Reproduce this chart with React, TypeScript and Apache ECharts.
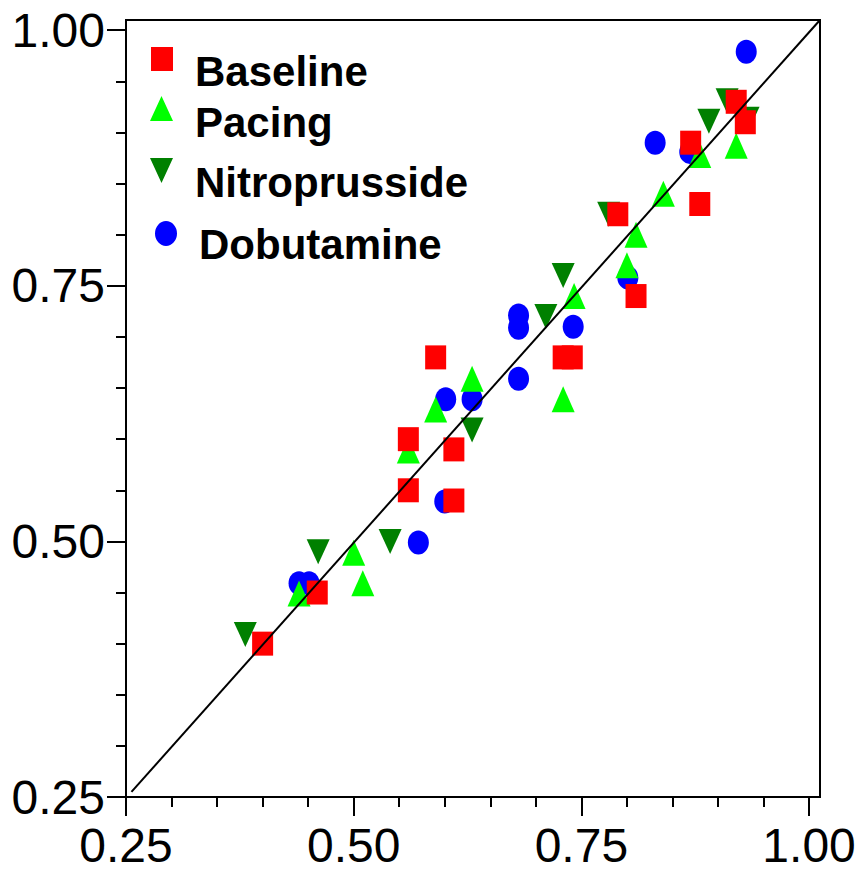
import React, { useEffect, useRef } from "react";
import * as echarts from "echarts";

const baseline: [number, number][] = [
  [0.87, 0.89], [0.92, 0.93], [0.93, 0.91], [0.88, 0.83], [0.79, 0.82],
  [0.81, 0.74], [0.59, 0.68], [0.73, 0.68], [0.74, 0.68], [0.56, 0.6],
  [0.61, 0.59], [0.56, 0.55], [0.61, 0.54], [0.46, 0.45], [0.4, 0.4],
];
const pacing: [number, number][] = [
  [0.92, 0.887], [0.88, 0.878], [0.84, 0.84], [0.81, 0.8], [0.8, 0.77],
  [0.742, 0.74], [0.73, 0.639], [0.63, 0.659], [0.59, 0.629], [0.56, 0.589],
  [0.5, 0.489], [0.51, 0.459], [0.44, 0.449],
];
const nitroprusside: [number, number][] = [
  [0.91, 0.931], [0.933, 0.913], [0.89, 0.911], [0.78, 0.82], [0.73, 0.76], [0.711, 0.72],
  [0.63, 0.609], [0.54, 0.5], [0.461, 0.49], [0.381, 0.409],
];
const dobutamine: [number, number][] = [
  [0.931, 0.979], [0.831, 0.89], [0.869, 0.881], [0.801, 0.758], [0.681, 0.721],
  [0.681, 0.709], [0.741, 0.71], [0.681, 0.659], [0.601, 0.639], [0.63, 0.639],
  [0.6, 0.539], [0.571, 0.499], [0.44, 0.459], [0.451, 0.459],
];
const identityLine: [number, number][] = [
  [0.256, 0.255], [1.012, 1.01],
];

const majorTicks = [0.25, 0.5, 0.75, 1.0];
const minorTicks = [0.3, 0.35, 0.4, 0.45, 0.55, 0.6, 0.65, 0.7, 0.8, 0.85, 0.9, 0.95];

const ELLIPSE = "path://M0,50 A50,50 0 1 1 100,50 A50,50 0 1 1 0,50 Z";
const DOWN_TRI = "path://M0,0 L10,0 L5,10 Z";

// legend icons: the shape sits at the top of a taller (invisible) box so the text sits lower
const LEG_RECT = "path://M0,0 L22,0 L22,24 L0,24 Z M0,48 L0.01,48 Z";
const LEG_UP = "path://M11.5,0 L23,25 L0,25 Z M0,53 L0.01,53 Z";
const LEG_DOWN = "path://M0,0 L23,0 L11.5,25 Z M0,49 L0.01,49 Z";
const LEG_ELL = "path://M0,12.5 A11,12.5 0 1 1 22,12.5 A11,12.5 0 1 1 0,12.5 Z M0,47 L0.01,47 Z";

export default function App() {
  const ref = useRef<HTMLDivElement>(null);
  useEffect(() => {
    document.body.style.margin = "0";
    if (!ref.current) return;
    const chart = echarts.init(ref.current, null, { renderer: "svg" });
    const legendText = {
      fontFamily: "Liberation Sans, Arial, sans-serif",
      fontWeight: "bold" as const,
      fontSize: 42,
      color: "#000",
    };
    const mkLegend = (name: string, icon: string, left: number, top: number, w: number, h: number, padLeft: number) => ({
      show: true,
      left,
      top,
      padding: 0,
      orient: "vertical" as const,
      itemWidth: w,
      itemHeight: h,
      symbolKeepAspect: false,
      selectedMode: false,
      data: [{ name, icon }],
      textStyle: { ...legendText, padding: [0, 0, 0, padLeft] },
    });
    chart.setOption({
      animation: false,
      backgroundColor: "#fff",
      grid: {
        left: 126,
        top: 20,
        width: 694,
        height: 777,
        show: true,
        borderColor: "#000",
        borderWidth: 2,
        backgroundColor: "transparent",
        outerBoundsMode: "none",
        containLabel: false,
      },
      legend: [
        mkLegend("Baseline", LEG_RECT, 151, 47, 22, 48, 17),
        mkLegend("Pacing", LEG_UP, 150, 96, 23, 53, 17),
        mkLegend("Nitroprusside", LEG_DOWN, 150, 158, 23, 49, 17),
        mkLegend("Dobutamine", LEG_ELL, 155, 221, 22, 47, 17),
      ],
      xAxis: [
        {
          type: "value",
          position: "bottom",
          min: 0.25,
          max: 1.012,
          splitLine: { show: false },
          axisLine: { show: true, onZero: false, lineStyle: { color: "#000", width: 2 } },
          axisTick: { show: true, customValues: majorTicks, length: 19, lineStyle: { color: "#000", width: 2 } },
          axisLabel: {
            show: true,
            customValues: majorTicks,
            formatter: (v: number) => v.toFixed(2),
            fontFamily: "Liberation Sans, Arial, sans-serif",
            fontSize: 48,
            color: "#000",
            margin: 24,
          },
        },
        {
          type: "value",
          position: "bottom",
          min: 0.25,
          max: 1.012,
          splitLine: { show: false },
          axisLine: { show: false, onZero: false },
          axisTick: { show: true, customValues: minorTicks, length: 10, lineStyle: { color: "#000", width: 2 } },
          axisLabel: { show: false },
        },
      ],
      yAxis: [
        {
          type: "value",
          position: "left",
          min: 0.25,
          max: 1.01,
          splitLine: { show: false },
          axisLine: { show: true, onZero: false, lineStyle: { color: "#000", width: 2 } },
          axisTick: { show: true, customValues: majorTicks, length: 19, lineStyle: { color: "#000", width: 2 } },
          axisLabel: {
            show: true,
            customValues: majorTicks,
            formatter: (v: number) => v.toFixed(2),
            fontFamily: "Liberation Sans, Arial, sans-serif",
            fontSize: 48,
            color: "#000",
            margin: 21,
          },
        },
        {
          type: "value",
          position: "left",
          min: 0.25,
          max: 1.01,
          splitLine: { show: false },
          axisLine: { show: false, onZero: false },
          axisTick: { show: true, customValues: minorTicks, length: 10, lineStyle: { color: "#000", width: 2 } },
          axisLabel: { show: false },
        },
      ],
      series: [
        {
          name: "Dobutamine",
          type: "scatter",
          data: dobutamine,
          symbol: ELLIPSE,
          symbolSize: [21, 24],
          itemStyle: { color: "#0000ff", opacity: 1 },
        },
        {
          name: "Nitroprusside",
          type: "scatter",
          data: nitroprusside,
          symbol: DOWN_TRI,
          symbolSize: [23, 25],
          itemStyle: { color: "#008000", opacity: 1 },
        },
        {
          name: "Pacing",
          type: "scatter",
          data: pacing,
          symbol: "triangle",
          symbolSize: [23, 26],
          itemStyle: { color: "#00ff00", opacity: 1 },
        },
        {
          name: "Baseline",
          type: "scatter",
          data: baseline,
          symbol: "rect",
          symbolSize: [21, 24],
          itemStyle: { color: "#ff0000", opacity: 1 },
        },
        {
          name: "Identity",
          type: "line",
          data: identityLine,
          symbol: "none",
          lineStyle: { color: "#000", width: 2 },
          silent: true,
        },
      ],
    });
    return () => chart.dispose();
  }, []);
  return <div ref={ref} style={{ width: 860, height: 874 }} />;
}
